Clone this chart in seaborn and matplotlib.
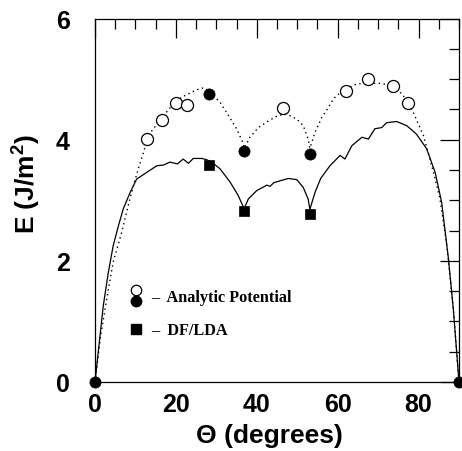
import matplotlib
matplotlib.use("Agg")
import matplotlib.pyplot as plt
import seaborn as sns
import numpy as np
import pandas as pd
from matplotlib.lines import Line2D
from matplotlib.legend_handler import HandlerBase
from matplotlib.ticker import MultipleLocator

# ---------------- data ----------------
theta_analytic = [0, 1.4, 2.9, 4.5, 6.6, 8.2, 9.5, 10.7, 12.0, 12.8, 14.0, 16.5, 18.5,
                  20.2, 22.0, 23.5, 25.0, 26.4, 27.3, 28.4, 30.9, 33.0, 35.0, 36.5, 36.9,
                  38.3, 40.4, 42.9, 45.3, 47.4, 49.9, 51.5, 52.7, 53.13,
                  54.4, 56.1, 57.7, 58.9, 61.0, 64.7, 67.2, 70.5, 73.8, 76.2, 78.7,
                  81.2, 83.7, 85.3, 87.0, 88.6, 90.0]
E_analytic = [0, 0.76, 1.37, 1.98, 2.47, 2.91, 3.24, 3.52, 3.79, 3.98, 4.14, 4.36, 4.52,
              4.65, 4.72, 4.77, 4.82, 4.85, 4.85, 4.78, 4.62, 4.40, 4.18, 3.96, 3.86,
              4.04, 4.20, 4.31, 4.40, 4.42, 4.34, 4.23, 4.01, 3.86,
              4.12, 4.37, 4.53, 4.67, 4.80, 4.92, 4.93, 4.93, 4.89, 4.73, 4.45,
              4.07, 3.46, 3.02, 2.25, 1.20, 0]

theta_dflda = [0, 1.07, 2.05, 3.3, 4.5, 5.8, 7.0, 8.7, 10.3, 12.8, 15.3, 16.9, 18.5,
               20.4, 21.8, 23.1, 24.3, 26.4, 27.6, 29.0, 30.9, 33.4, 35.4, 36.87,
               37.9, 40.0, 42.5, 43.3, 44.2, 45.7, 47.8, 49.9, 51.5, 52.7, 53.13,
               54.4, 55.8, 58.1, 60.6, 61.8, 63.5, 66.0, 67.6, 69.2, 70.9, 72.1,
               74.6, 77.1, 79.5, 82.0, 84.1, 85.7, 87.4, 88.6, 90.0]
E_dflda = [0, 0.66, 1.26, 1.81, 2.25, 2.58, 2.86, 3.13, 3.35, 3.46, 3.57, 3.58, 3.63,
           3.60, 3.68, 3.61, 3.69, 3.69, 3.67, 3.62, 3.52, 3.30, 3.08, 2.86,
           3.02, 3.16, 3.25, 3.23, 3.29, 3.32, 3.36, 3.34, 3.21, 3.02, 2.85,
           3.13, 3.36, 3.57, 3.74, 3.68, 3.90, 4.04, 4.01, 4.18, 4.20, 4.28,
           4.30, 4.23, 4.09, 3.85, 3.46, 2.97, 2.03, 1.20, 0]

theta_open = [12.8, 16.5, 20.1, 22.75, 46.5, 62.0, 67.4, 73.8, 77.5]
E_open = [4.01, 4.33, 4.60, 4.58, 4.52, 4.80, 5.00, 4.89, 4.61]

theta_filled = [0.0, 28.07, 36.87, 53.13, 90.0]
E_filled = [0.0, 4.75, 3.81, 3.77, 0.0]

theta_square = [28.07, 36.87, 53.13]
E_square = [3.58, 2.82, 2.78]

x_ticks = [0, 20, 40, 60, 80]
y_ticks = [0, 2, 4, 6]
legend_labels = ["–  Analytic Potential", "–  DF/LDA"]
x_label = "Θ (degrees)"
y_label = "E (J/m$^\\mathbf{2}$)"

# ---------------- figure ----------------
sns.set_style("white")
plt.rcParams["font.family"] = ["Liberation Sans", "DejaVu Sans"]
plt.rcParams["mathtext.fontset"] = "custom"
plt.rcParams["mathtext.rm"] = "Liberation Sans:bold"
plt.rcParams["mathtext.bf"] = "Liberation Sans:bold"
plt.rcParams["text.color"] = "black"
plt.rcParams["axes.labelcolor"] = "black"
plt.rcParams["xtick.color"] = "black"
plt.rcParams["ytick.color"] = "black"

fig = plt.figure(figsize=(4.62, 4.52), dpi=100)
ax = fig.add_axes([95 / 462, 1 - 383 / 452, 364 / 462, 363.5 / 452])

df_a = pd.DataFrame({"theta": theta_analytic, "E": E_analytic})
df_d = pd.DataFrame({"theta": theta_dflda, "E": E_dflda})

sns.lineplot(data=df_a, x="theta", y="E", ax=ax, sort=False, estimator=None,
             color="black", lw=1.0, linestyle=(0, (1, 2.5)))
sns.lineplot(data=df_d, x="theta", y="E", ax=ax, sort=False, estimator=None,
             color="black", lw=0.9, linestyle="-")

sns.scatterplot(x=theta_open, y=E_open, ax=ax, marker="o", s=75,
                facecolor="white", edgecolor="black", linewidth=0.9, zorder=5)
sns.scatterplot(x=theta_filled, y=E_filled, ax=ax, marker="o", s=65,
                color="black", edgecolor="black", linewidth=0.5, zorder=6,
                clip_on=False)
sns.scatterplot(x=theta_square, y=E_square, ax=ax, marker="s", s=55,
                color="black", edgecolor="black", linewidth=0.5, zorder=6)

ax.set_xlim(0, 90)
ax.set_ylim(0, 6)
ax.set_xticks(x_ticks)
ax.set_yticks(y_ticks)
ax.xaxis.set_minor_locator(MultipleLocator(5))
ax.yaxis.set_minor_locator(MultipleLocator(0.5))
ax.tick_params(which="both", direction="in", top=True, right=True,
               color="black", width=0.9)
ax.tick_params(which="major", length=13.5)
ax.tick_params(which="minor", length=7)
ax.tick_params(axis="x", which="major", pad=7, labelsize=18, labelcolor="black")
ax.tick_params(axis="y", which="major", pad=18, labelsize=18, labelcolor="black")
for lab in ax.get_xticklabels() + ax.get_yticklabels():
    lab.set_fontweight("bold")
for sp in ax.spines.values():
    sp.set_color("black")
    sp.set_linewidth(0.9)

ax.set_xlabel(x_label, fontsize=19, fontweight="bold", color="black")
ax.set_ylabel(y_label, fontsize=19, fontweight="bold", color="black")
ax.xaxis.set_label_coords(0.48, -0.112)
ax.yaxis.set_label_coords(-0.146, 0.546)


class StackedCircles(HandlerBase):
    def create_artists(self, legend, orig_handle, xdescent, ydescent,
                       width, height, fontsize, trans):
        cx = width / 2 - xdescent
        cy = height / 2 - ydescent
        d = 3.9
        top = Line2D([cx], [cy + d], marker="o", markersize=7.5, ls="none",
                     mfc="white", mec="black", mew=0.9, transform=trans)
        bot = Line2D([cx], [cy - d], marker="o", markersize=7.5, ls="none",
                     mfc="black", mec="black", transform=trans)
        return [top, bot]


h_analytic = Line2D([], [], marker="o", ls="none", color="black")
h_dflda = Line2D([], [], marker="s", ls="none", color="black", markersize=6.5)
leg = ax.legend([h_analytic, h_dflda], legend_labels,
                handler_map={h_analytic: StackedCircles()},
                loc="upper left", bbox_to_anchor=(0.088, 0.255), frameon=False,
                borderpad=0, borderaxespad=0, handlelength=1.05, handletextpad=0.42,
                labelspacing=1.05,
                prop={"family": ["Liberation Serif", "DejaVu Serif"],
                      "weight": "bold", "size": 11.7})
for t in leg.get_texts():
    t.set_color("black")

fig.savefig("out.png", dpi=100)
